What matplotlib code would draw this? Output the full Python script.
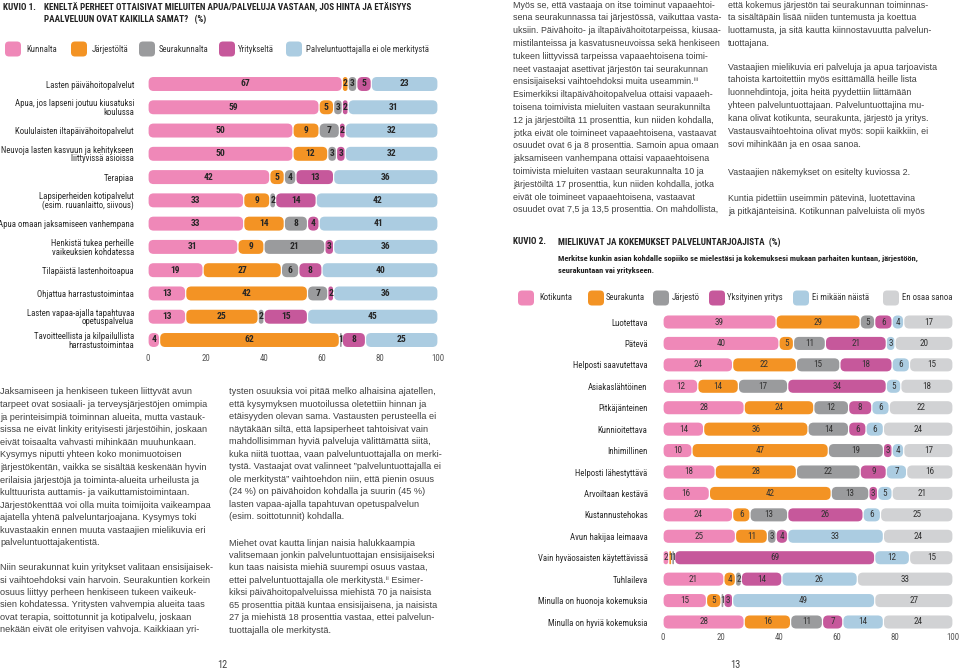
import matplotlib
matplotlib.use('Agg')
import matplotlib.pyplot as plt
from matplotlib.patches import FancyBboxPatch
from matplotlib import font_manager as fm

W, H = 959, 670

# ---------------- DATA: KUVIO 1 ----------------
c1_categories = [
    'Lasten päivähoitopalvelut',
    'Apua, jos lapseni joutuu kiusatuksi\nkoulussa',
    'Koululaisten iltapäivähoitopalvelut',
    'Neuvoja lasten kasvuun ja kehitykseen\nliittyvissä asioissa',
    'Terapiaa',
    'Lapsiperheiden kotipalvelut\n(esim. ruuanlaitto, siivous)',
    'Apua omaan jaksamiseen vanhempana',
    'Henkistä tukea perheille\nvaikeuksien kohdatessa',
    'Tilapäistä lastenhoitoapua',
    'Ohjattua harrastustoimintaa',
    'Lasten vapaa-ajalla tapahtuvaa\nopetuspalvelua',
    'Tavoitteellista ja kilpailullista\nharrastustoimintaa',
]
c1_series = ['Kunnalta', 'Järjestöltä', 'Seurakunnalta', 'Yritykseltä',
             'Palveluntuottajalla ei ole merkitystä']
c1_kunnalta = [67, 59, 50, 50, 42, 33, 33, 31, 19, 13, 13, 4]
c1_jarjestolta = [2, 5, 9, 12, 5, 9, 14, 9, 27, 42, 25, 62]
c1_seurakunnalta = [3, 3, 7, 3, 4, 2, 8, 21, 6, 7, 2, 1]
c1_yritykselta = [5, 2, 2, 3, 13, 14, 4, 3, 8, 2, 15, 8]
c1_ei_merkitysta = [23, 31, 32, 32, 36, 42, 41, 36, 40, 36, 45, 25]

# ---------------- DATA: KUVIO 2 ----------------
c2_categories = [
    'Luotettava', 'Pätevä', 'Helposti saavutettava', 'Asiakaslähtöinen',
    'Pitkäjänteinen', 'Kunnioitettava', 'Inhimillinen', 'Helposti lähestyttävä',
    'Arvoiltaan kestävä', 'Kustannustehokas', 'Avun hakijaa leimaava',
    'Vain hyväosaisten käytettävissä', 'Tuhlaileva',
    'Minulla on huonoja kokemuksia', 'Minulla on hyviä kokemuksia',
]
c2_series = ['Kotikunta', 'Seurakunta', 'Järjestö', 'Yksityinen yritys',
             'Ei mikään näistä', 'En osaa sanoa']
c2_kotikunta = [39, 40, 24, 12, 28, 14, 10, 18, 16, 24, 25, 2, 21, 15, 28]
c2_seurakunta = [29, 5, 22, 14, 24, 36, 47, 28, 42, 6, 11, 1, 4, 5, 16]
c2_jarjesto = [5, 11, 15, 17, 12, 14, 19, 22, 13, 13, 3, 1, 2, 1, 11]
c2_yritys = [6, 21, 18, 34, 8, 6, 3, 9, 3, 26, 4, 69, 14, 3, 7]
c2_ei_mikaan = [4, 3, 6, 5, 6, 6, 4, 7, 5, 6, 33, 12, 26, 49, 14]
c2_eos = [17, 20, 15, 18, 22, 24, 17, 16, 21, 25, 24, 15, 33, 27, 24]

x_ticks = [0, 20, 40, 60, 80, 100]

# ---------------- COLORS ----------------
PINK = '#ef88b8'
ORANGE = '#f39324'
GRAY = '#9a9b9d'
PURPLE = '#c6589b'
LBLUE = '#abcce1'
LGRAY = '#d1d2d4'
c1_colors = [PINK, ORANGE, GRAY, PURPLE, LBLUE]
c2_colors = [PINK, ORANGE, GRAY, PURPLE, LBLUE, LGRAY]

# ---------------- FONTS ----------------
avail = {f.name for f in fm.fontManager.ttflist}
COND = None
for cand in ['Roboto Condensed', 'Liberation Sans Narrow', 'Noto Sans Condensed',
             'Open Sans Condensed', 'DejaVu Sans Condensed']:
    if cand in avail:
        COND = dict(family=[cand, 'DejaVu Sans'])
        break
if COND is None:
    for f in fm.fontManager.ttflist:
        st = str(f.stretch).lower()
        if 'condensed' in st and f.name in ('Roboto', 'Noto Sans', 'Open Sans', 'DejaVu Sans'):
            COND = dict(family=[f.name, 'DejaVu Sans'], stretch='condensed')
            break
COND_SCALE = 1.0
if COND is None:
    COND = dict(family=['Liberation Sans', 'DejaVu Sans'])
    COND_SCALE = 0.85
BODY = dict(family=['Liberation Sans', 'DejaVu Sans'])


def cs(s):
    return s * COND_SCALE


fig = plt.figure(figsize=(W / 100, H / 100), dpi=100)
fig.patch.set_facecolor('white')


def px_axes(x0, y_top, x1, y_bot):
    return fig.add_axes([x0 / W, 1 - y_bot / H, (x1 - x0) / W, (y_bot - y_top) / H])


def draw_chart(ax, cats, series_vals, colors, bar_h, lab_kw, r_px=5.0, gap_px=1.2,
               cat_pad=10, tick_pad=1.0, cat_size=6.3, tick_size=6.3):
    n = len(cats)
    ax.set_xlim(0, 100)
    ax.set_ylim(n - 0.5, -0.5)
    bb = ax.get_position()
    ppx = bb.width * W / 100.0
    ppy = bb.height * H / n
    aspect = ppx / ppy
    for i in range(n):
        left = 0
        for vals, col in zip(series_vals, colors):
            v = vals[i]
            if v <= 0:
                continue
            g = gap_px / 2 / ppx
            w = v - 2 * g
            r = min(r_px / ppx, w / 2 * 0.999, bar_h / aspect / 2 * 0.999)
            p = FancyBboxPatch((left + g, i - bar_h / 2), w, bar_h,
                               boxstyle=f"round,pad=0,rounding_size={r}",
                               mutation_aspect=aspect, fc=col, ec='none')
            ax.add_patch(p)
            ax.text(left + v / 2, i, str(v), ha='center', va='center', **lab_kw)
            left += v
    ax.set_yticks(range(n))
    ax.set_yticklabels(cats, fontsize=cs(cat_size), color='#2a2a2a',
                       linespacing=0.95, **COND)
    ax.set_xticks(x_ticks)
    ax.set_xticklabels([str(t) for t in x_ticks], fontsize=cs(tick_size),
                       color='#555555', **COND)
    ax.tick_params(axis='y', length=0, pad=cat_pad)
    ax.tick_params(axis='x', length=0, pad=tick_pad)
    for s in ax.spines.values():
        s.set_visible(False)
    ax.set_facecolor('none')


# ---------------- Chart 1 ----------------
sp1 = (340 - 84) / 11.0
ax1 = px_axes(148, 84 - sp1 / 2, 438, 340 + sp1 / 2)
draw_chart(ax1, c1_categories,
           [c1_kunnalta, c1_jarjestolta, c1_seurakunnalta, c1_yritykselta, c1_ei_merkitysta],
           c1_colors, 0.60,
           dict(fontsize=cs(6.8), color='#262626', fontweight='bold', **COND),
           cat_pad=10, tick_pad=1.5)

# ---------------- Chart 2 ----------------
sp2 = (622 - 322) / 14.0
ax2 = px_axes(663, 322 - sp2 / 2, 953, 622 + sp2 / 2)
draw_chart(ax2, c2_categories,
           [c2_kotikunta, c2_seurakunta, c2_jarjesto, c2_yritys, c2_ei_mikaan, c2_eos],
           c2_colors, 0.61,
           dict(fontsize=cs(6.6), color='#333333', **COND),
           cat_pad=11, tick_pad=0.5)

# ---------------- overlay (pixel coords) ----------------
ov = fig.add_axes([0, 0, 1, 1])
ov.set_xlim(0, W)
ov.set_ylim(H, 0)
ov.axis('off')
ov.patch.set_alpha(0)


def swatch(x, y, col, w=16, h=15):
    ov.add_patch(FancyBboxPatch((x, y - h / 2), w, h,
                                boxstyle="round,pad=0,rounding_size=4",
                                fc=col, ec='none'))


# legend 1
leg1_sw = [5, 71, 139, 219, 286]
leg1_tx = [26, 92, 159, 238, 306]
for xs, xt, col, lab in zip(leg1_sw, leg1_tx, c1_colors, c1_series):
    swatch(xs, 49, col)
    ov.text(xt, 49, lab, ha='left', va='center', fontsize=cs(6.3), color='#333333', **COND)

# legend 2
leg2_sw = [518, 588, 653, 709, 793, 883]
leg2_tx = [539, 606, 672, 727, 812, 902]
for xs, xt, col, lab in zip(leg2_sw, leg2_tx, c2_colors, c2_series):
    swatch(xs, 298, col)
    ov.text(xt, 298, lab, ha='left', va='center', fontsize=cs(6.3), color='#333333', **COND)

# titles
TKW = dict(fontsize=cs(6.6), fontweight='bold', color='#222222', ha='left', va='center', **COND)
ov.text(3, 7, 'KUVIO 1.', **TKW)
ov.text(44, 7, 'KENELTÄ PERHEET OTTAISIVAT MIELUITEN APUA/PALVELUJA VASTAAN, JOS HINTA JA ETÄISYYS', **TKW)
ov.text(44, 19, 'PAALVELUUN OVAT KAIKILLA SAMAT?   (%)', **TKW)
ov.text(513, 242, 'KUVIO 2.', **TKW)
ov.text(558, 242, 'MIELIKUVAT JA KOKEMUKSET PALVELUNTARJOAJISTA  (%)', **TKW)
SKW = dict(fontsize=cs(6.0), fontweight='bold', color='#222222', ha='left', va='center', **COND)
ov.text(558, 258, 'Merkitse kunkin asian kohdalle sopiiko se mielestäsi ja kokemuksesi mukaan parhaiten kuntaan, järjestöön,', **SKW)
ov.text(558, 270, 'seurakuntaan vai yritykseen.', **SKW)

# page numbers
ov.text(222, 665, '12', ha='center', va='center', fontsize=cs(7.5), color='#444444', **COND)
ov.text(735, 665, '13', ha='center', va='center', fontsize=cs(7.5), color='#444444', **COND)

# ---------------- body text ----------------
def para(x, y, spacing, lines, size):
    for k, ln in enumerate(lines):
        ov.text(x, y + k * spacing, ln, fontsize=size, color='#404040',
                ha='left', va='center', **BODY)


LS = 6.6   # left page body size
RS = 6.4   # right page body size

para(0, 392, 12.58, [
    'Jaksamiseen ja henkiseen tukeen liittyvät avun',
    'tarpeet ovat sosiaali- ja terveysjärjestöjen omimpia',
    'ja perinteisimpiä toiminnan alueita, mutta vastauk-',
    'sissa ne eivät linkity erityisesti järjestöihin, joskaan',
    'eivät toisaalta vahvasti mihinkään muuhunkaan.',
    'Kysymys niputti yhteen koko monimuotoisen',
    'järjestökentän, vaikka se sisältää keskenään hyvin',
    'erilaisia järjestöjä ja toiminta-alueita urheilusta ja',
    'kulttuurista auttamis- ja vaikuttamistoimintaan.',
    'Järjestökenttää voi olla muita toimijoita vaikeampaa',
    'ajatella yhtenä palveluntarjoajana. Kysymys toki',
    'kuvastaakin ennen muuta vastaajien mielikuvia eri',
    'palveluntuottajakentistä.',
], LS)
para(0, 568, 12.3, [
    'Niin seurakunnat kuin yritykset valitaan ensisijaisek-',
    'si vaihtoehdoksi vain harvoin. Seurakuntien korkein',
    'osuus liittyy perheen henkiseen tukeen vaikeuk-',
    'sien kohdatessa. Yritysten vahvempia alueita taas',
    'ovat terapia, soittotunnit ja kotipalvelu, joskaan',
    'nekään eivät ole erityisen vahvoja. Kaikkiaan yri-',
], LS)
para(229, 392, 12.47, [
    'tysten osuuksia voi pitää melko alhaisina ajatellen,',
    'että kysymyksen muotoilussa oletettiin hinnan ja',
    'etäisyyden olevan sama. Vastausten perusteella ei',
    'näytäkään siltä, että lapsiperheet tahtoisivat vain',
    'mahdollisimman hyviä palveluja välittämättä siitä,',
    'kuka niitä tuottaa, vaan palveluntuottajalla on merki-',
    'tystä. Vastaajat ovat valinneet ”palveluntuottajalla ei',
    'ole merkitystä” vaihtoehdon niin, että pienin osuus',
    '(24 %) on päivähoidon kohdalla ja suurin (45 %)',
    'lasten vapaa-ajalla tapahtuvan opetuspalvelun',
    '(esim. soittotunnit) kohdalla.',
], LS)
para(229, 543, 12.48, [
    'Miehet ovat kautta linjan naisia halukkaampia',
    'valitsemaan jonkin palveluntuottajan ensisijaiseksi',
    'kun taas naisista miehiä suurempi osuus vastaa,',
    'ettei palveluntuottajalla ole merkitystä.ⁱⁱ Esimer-',
    'kiksi päivähoitopalveluissa miehistä 70 ja naisista',
    '65 prosenttia pitää kuntaa ensisijaisena, ja naisista',
    '27 ja miehistä 18 prosenttia vastaa, ettei palvelun-',
    'tuottajalla ole merkitystä.',
], LS)
para(513, 5, 12.8, [
    'Myös se, että vastaaja on itse toiminut vapaaehtoi-',
    'sena seurakunnassa tai järjestössä, vaikuttaa vasta-',
    'uksiin. Päivähoito- ja iltapäivähoitotarpeissa, kiusaa-',
    'mistilanteissa ja kasvatusneuvoissa sekä henkiseen',
    'tukeen liittyvissä tarpeissa vapaaehtoisena toimi-',
    'neet vastaajat asettivat järjestön tai seurakunnan',
    'ensisijaiseksi vaihtoehdoksi muita useammin.ⁱⁱⁱ',
    'Esimerkiksi iltapäivähoitopalvelua ottaisi vapaaeh-',
    'toisena toimivista mieluiten vastaan seurakunnilta',
    '12 ja järjestöiltä 11 prosenttia, kun niiden kohdalla,',
    'jotka eivät ole toimineet vapaaehtoisena, vastaavat',
    'osuudet ovat 6 ja 8 prosenttia. Samoin apua omaan',
    'jaksamiseen vanhempana ottaisi vapaaehtoisena',
    'toimivista mieluiten vastaan seurakunnalta 10 ja',
    'järjestöiltä 17 prosenttia, kun niiden kohdalla, jotka',
    'eivät ole toimineet vapaaehtoisena, vastaavat',
    'osuudet ovat 7,5 ja 13,5 prosenttia. On mahdollista,',
], RS)
para(728, 5, 12.8, [
    'että kokemus järjestön tai seurakunnan toiminnas-',
    'ta sisältäpäin lisää niiden tuntemusta ja koettua',
    'luottamusta, ja sitä kautta kiinnostavuutta palvelun-',
    'tuottajana.',
], RS)
para(728, 67, 12.9, [
    'Vastaajien mielikuvia eri palveluja ja apua tarjoavista',
    'tahoista kartoitettiin myös esittämällä heille lista',
    'luonnehdintoja, joita heitä pyydettiin liittämään',
    'yhteen palveluntuottajaan. Palveluntuottajina mu-',
    'kana olivat kotikunta, seurakunta, järjestö ja yritys.',
    'Vastausvaihtoehtoina olivat myös: sopii kaikkiin, ei',
    'sovi mihinkään ja en osaa sanoa.',
], RS)
para(728, 172.7, 12.8, ['Vastaajien näkemykset on esitelty kuviossa 2.'], RS)
para(728, 198.3, 12.8, [
    'Kuntia pidettiin useimmin pätevinä, luotettavina',
    'ja pitkäjänteisinä. Kotikunnan palveluista oli myös',
], RS)

fig.savefig('out.png', dpi=100, facecolor='white')
